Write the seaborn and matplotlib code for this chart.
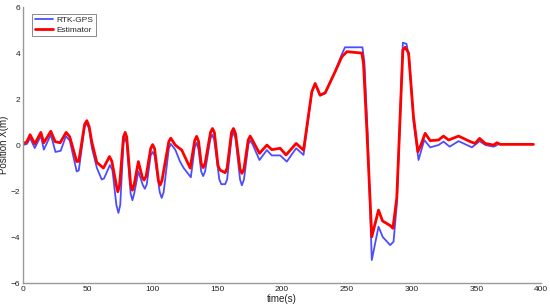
import numpy as np
import pandas as pd
import matplotlib
matplotlib.use("Agg")
import matplotlib.pyplot as plt
import seaborn as sns

# RTK-GPS reference track
rtk_t = [0, 3, 5.4, 9, 13.7, 16, 21.4, 25, 29, 33, 36, 41.4, 43, 47.5, 49.2,
         51, 53, 57, 60.7, 62.5, 67, 69, 72, 73.6, 75, 77.5, 78.8, 80, 83,
         84.4, 85.8, 89, 92.5, 94, 95.5, 98.5, 100, 101.5, 105.5, 107, 108.5,
         112.5, 114, 117.5, 121, 124, 129.5, 132.5, 134, 135.5, 137.5, 139,
         140.5, 144.5, 146, 147.5, 151.5, 153, 156, 157.5, 161, 162.4, 164,
         167.5, 168.9, 170.5, 174, 175.3, 177, 182.5, 188.2, 192, 198.5, 203.6,
         210.8, 216.5, 222.9, 225.5, 229.3, 233.2, 240.9, 246.1, 248.5, 262,
         263.5, 266, 269.2, 274.4, 277.7, 283.4, 286, 288.5, 293.2, 296, 298,
         301.5, 305.3, 309.7, 314.3, 320.7, 324.6, 329.3, 336.2, 346.5, 352.4,
         357, 363.2, 366]
rtk_x = [0, 0.05, 0.3, -0.13, 0.4, -0.2, 0.45, -0.3, -0.25, 0.38, 0.2, -1.15,
         -1.1, 0.8, 0.95, 0.7, -0.1, -1.0, -1.5, -1.45, -0.87, -1.1, -2.6,
         -2.95, -2.6, 0.1, 0.3, 0.1, -2.1, -2.4, -2.1, -1.15, -1.75, -1.9,
         -1.7, -0.45, -0.3, -0.45, -2.05, -2.3, -2.05, -0.15, 0.05, -0.2, -0.7,
         -1.0, -1.4, -0.1, 0.1, -0.2, -1.15, -1.35, -1.15, 0.25, 0.45, 0.25,
         -1.5, -1.7, -1.7, -1.5, 0.35, 0.55, 0.3, -1.5, -1.75, -1.5, 0.05, 0.2,
         0.05, -0.65, -0.22, -0.45, -0.45, -0.72, -0.14, -0.43, 2.3, 2.65, 2.15,
         2.25, 3.2, 3.95, 4.25, 4.25, 3.6, 0.5, -5.0, -3.55, -4.0, -4.35, -4.2,
         -2.6, 4.45, 4.4, 3.8, 1.0, -0.65, 0.22, -0.1, 0.0, 0.15, -0.07, 0.17,
         -0.1, 0.17, 0.0, -0.07, 0.0]

# Estimator output
est_t = [0, 3, 5.4, 9, 13.7, 16, 21.4, 24.7, 28.6, 33.2, 36, 41.4, 43, 47.5,
         49.2, 51, 53, 56.9, 62, 66.7, 68.5, 72, 73.1, 74.5, 77.5, 78.8, 80,
         83, 84.4, 85.8, 89, 92, 93.4, 95, 98.5, 100, 101.5, 104.5, 105.8,
         107.2, 112.5, 114, 117.5, 122.5, 129, 132.5, 134, 135.5, 137.5, 139,
         140.5, 144.7, 146.2, 147.7, 150.5, 152.1, 156, 157.5, 160.9, 162.4,
         164, 167.5, 168.9, 170.5, 173.8, 175.3, 177, 182.5, 188.2, 192, 198.5,
         203, 210.8, 216.5, 222.9, 225.5, 229.3, 233.2, 240.9, 246.1, 250,
         261.5, 262.8, 265.4, 269.2, 274.4, 277.5, 283.4, 285.5, 288.5, 293.2,
         295, 297.6, 301.4, 304.8, 307.1, 310.4, 314.3, 320.7, 324.6, 328.5,
         336.2, 345.2, 349, 352.4, 356.8, 363.2, 365.8, 368.3, 394]
est_x = [0.05, 0.15, 0.45, 0.05, 0.55, 0.1, 0.6, 0.15, 0.1, 0.55, 0.36, -0.72,
         -0.7, 0.9, 1.06, 0.8, 0.15, -0.75, -1.0, -0.5, -0.7, -1.75, -2.03,
         -1.75, 0.35, 0.55, 0.35, -1.7, -1.96, -1.7, -0.72, -1.4, -1.52, -1.35,
         -0.15, 0.02, -0.15, -1.55, -1.74, -1.55, 0.15, 0.3, 0.0, -0.22, -1.0,
         0.2, 0.38, 0.15, -0.8, -0.98, -0.8, 0.55, 0.72, 0.55, -0.9, -1.09,
         -1.2, -1.0, 0.55, 0.72, 0.5, -1.05, -1.23, -1.05, 0.22, 0.39, 0.22,
         -0.36, 0.0, -0.2, -0.14, -0.43, 0.07, -0.22, 2.32, 2.68, 2.17, 2.27,
         3.19, 3.84, 4.06, 4.0, 3.55, 0.65, -3.99, -2.83, -3.3, -3.5, -3.62,
         -2.3, 4.13, 4.25, 4.0, 1.23, -0.29, 0.0, 0.51, 0.19, 0.22, 0.39, 0.22,
         0.39, 0.15, 0.07, 0.29, 0.07, 0.0, 0.1, 0.03, 0.03]

x_ticks = [0, 50, 100, 150, 200, 250, 300, 350, 400]
y_ticks = [-6, -4, -2, 0, 2, 4, 6]

sns.set_style("white")
plt.rcParams['font.family'] = ['Liberation Sans', 'DejaVu Sans']

fig = plt.figure(figsize=(5.5, 3.07), dpi=100)
ax = fig.add_axes([0.042, 0.078, 0.942, 0.899])

sns.lineplot(x=rtk_t, y=rtk_x, ax=ax, color='#4d4dff', linewidth=1.3,
             label='RTK-GPS', sort=False)
sns.lineplot(x=est_t, y=est_x, ax=ax, color='#ff0000', linewidth=2.0,
             label='Estimator', sort=False)

ax.set_xlim(0, 400)
ax.set_ylim(-6, 6)
ax.set_xticks(x_ticks)
ax.set_yticks(y_ticks)
ax.tick_params(direction='in', length=3, width=0.6, colors='#888888',
               labelsize=6, labelcolor='#222222', pad=2)
for side in ['top', 'right']:
    ax.spines[side].set_visible(False)
for side in ['left', 'bottom']:
    ax.spines[side].set_color('#999999')
    ax.spines[side].set_linewidth(1.0)

ax.set_xlabel('time(s)', fontsize=7, labelpad=1, color='#222222')
ax.set_ylabel('Position X(m)', fontsize=7, color='#222222')
ax.yaxis.set_label_coords(-0.027, 0.5)

leg = ax.legend(loc='upper left', bbox_to_anchor=(0.01, 0.99), fontsize=6,
                frameon=True, fancybox=False, handlelength=2.2,
                borderpad=0.3, labelspacing=0.2, handletextpad=0.4)
leg.get_frame().set_edgecolor('#555555')
leg.get_frame().set_linewidth(0.6)

fig.savefig('out.png', dpi=100)
